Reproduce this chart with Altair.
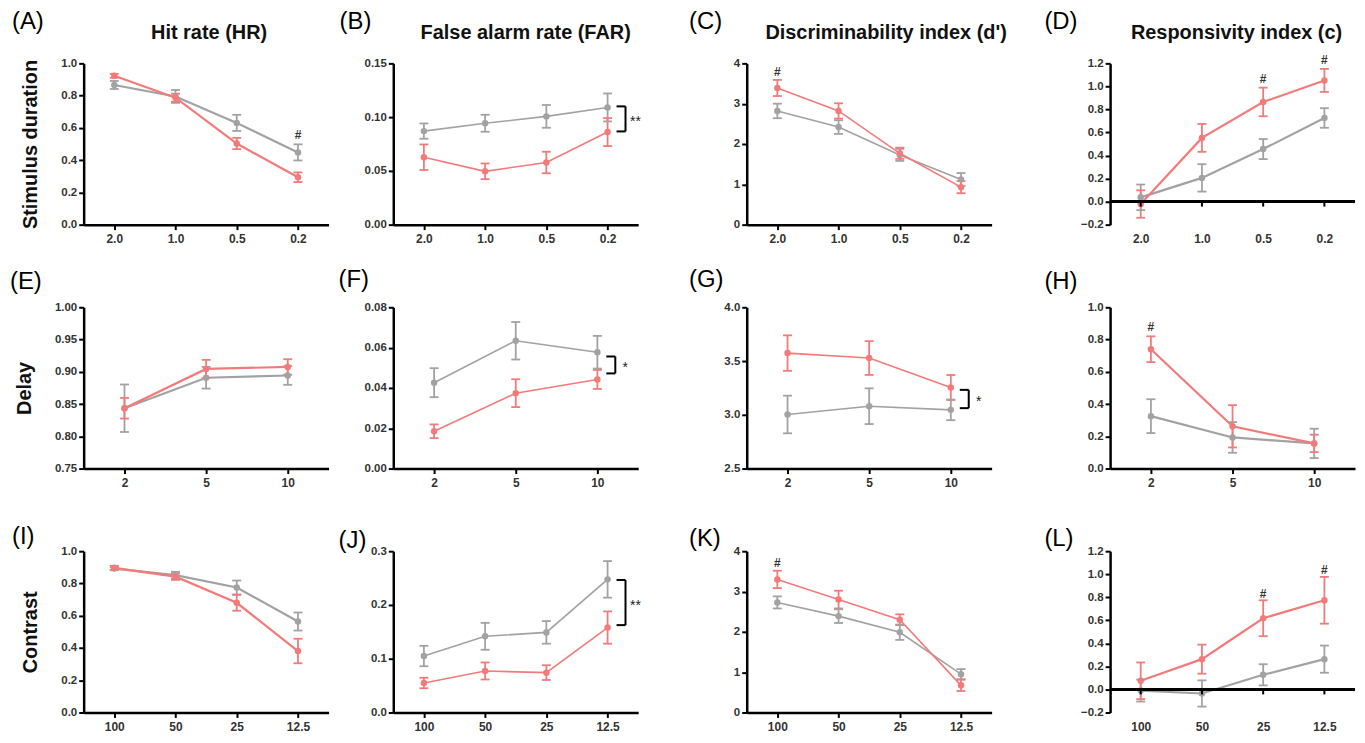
import altair as alt
import pandas as pd

RED = "#F47A7A"
GRAY = "#A2A2A2"
LIGHT = "#CFCFCF"
FONT = "Liberation Sans"

W = 246
H = 162
SPACERS = [45, 89, 99]

stim_levels = ["2.0", "1.0", "0.5", "0.2"]
delay_levels = ["2", "5", "10"]
contrast_levels = ["100", "50", "25", "12.5"]

col_titles = ["Hit rate (HR)", "False alarm rate (FAR)",
              "Discriminability index (d')", "Responsivity index (c)"]
row_titles = ["Stimulus duration", "Delay", "Contrast"]
letters = ["(A)", "(B)", "(C)", "(D)", "(E)", "(F)", "(G)", "(H)",
           "(I)", "(J)", "(K)", "(L)"]

# ---- Row 1: stimulus duration ----
A_red = [0.923, 0.787, 0.503, 0.294]
A_red_err = [0.012, 0.025, 0.035, 0.030]
A_gray = [0.866, 0.795, 0.631, 0.448]
A_gray_err = [0.025, 0.040, 0.050, 0.050]
A_hash = [("0.2", 0.555)]

B_red = [0.0627, 0.0496, 0.0578, 0.0861]
B_red_err = [0.0119, 0.0073, 0.0100, 0.0130]
B_gray = [0.0870, 0.0943, 0.1007, 0.1090]
B_gray_err = [0.0071, 0.0079, 0.0106, 0.0130]
B_bracket = (0.110, 0.0867, "**")

C_red = [3.39, 2.82, 1.77, 0.93]
C_red_err = [0.20, 0.19, 0.14, 0.15]
C_gray = [2.82, 2.42, 1.73, 1.12]
C_gray_err = [0.18, 0.17, 0.15, 0.16]
C_hash = [("2.0", 3.78)]

D_red = [-0.021, 0.553, 0.865, 1.052]
D_red_err = [0.119, 0.121, 0.124, 0.100]
D_gray = [0.037, 0.206, 0.456, 0.726]
D_gray_err = [0.111, 0.119, 0.087, 0.085]
D_hash = [("0.5", 1.06), ("0.2", 1.23)]

# ---- Row 2: delay ----
E_red = [0.8435, 0.9045, 0.9075]
E_red_err = [0.016, 0.014, 0.012]
E_gray = [0.8435, 0.8908, 0.8943]
E_gray_err = [0.0368, 0.0168, 0.0145]

F_red = [0.0185, 0.0374, 0.0442]
F_red_err = [0.0034, 0.0069, 0.0047]
F_gray = [0.0426, 0.0634, 0.0577]
F_gray_err = [0.0072, 0.0093, 0.0081]
F_bracket = (0.0556, 0.0472, "*")

G_red = [3.574, 3.528, 3.254]
G_red_err = [0.165, 0.157, 0.116]
G_gray = [3.003, 3.080, 3.046]
G_gray_err = [0.175, 0.166, 0.096]
G_bracket = (3.232, 3.062, "*")

H_red = [0.740, 0.262, 0.156]
H_red_err = [0.080, 0.131, 0.054]
H_gray = [0.325, 0.193, 0.156]
H_gray_err = [0.105, 0.095, 0.091]
H_hash = [("2", 0.878)]

# ---- Row 3: contrast ----
I_red = [0.897, 0.842, 0.680, 0.381]
I_red_err = [0.012, 0.020, 0.049, 0.076]
I_gray = [0.892, 0.852, 0.775, 0.564]
I_gray_err = [0.010, 0.020, 0.043, 0.056]

J_red = [0.0548, 0.0772, 0.0741, 0.158]
J_red_err = [0.0097, 0.0158, 0.0137, 0.030]
J_gray = [0.105, 0.1417, 0.149, 0.2476]
J_gray_err = [0.019, 0.025, 0.021, 0.034]
J_bracket = (0.2465, 0.1625, "**")

K_red = [3.30, 2.80, 2.30, 0.673]
K_red_err = [0.215, 0.22, 0.134, 0.14]
K_gray = [2.73, 2.39, 1.99, 0.95]
K_gray_err = [0.15, 0.17, 0.19, 0.126]
K_hash = [("100", 3.71)]

L_red = [0.075, 0.263, 0.618, 0.774]
L_red_err = [0.159, 0.126, 0.156, 0.203]
L_gray = [-0.010, -0.035, 0.127, 0.263]
L_gray_err = [0.095, 0.114, 0.092, 0.118]
L_hash = [("25", 0.83), ("12.5", 1.04)]


def panel(letter, letter_xy, levels, red, red_err, gray, gray_err,
          ydom, yticks, yfmt, title=None, title_dx=0, row_title=None, hashes=None,
          bracket=None, zero_line=False, lw=2.0, gray_color=GRAY):
    n = len(levels)
    df = pd.DataFrame({
        "cond": list(levels) * 2,
        "group": ["Series 2"] * n + ["Series 1"] * n,
        "mean": list(gray) + list(red),
        "err": list(gray_err) + list(red_err),
    })
    df["lo"] = df["mean"] - df["err"]
    df["hi"] = df["mean"] + df["err"]

    xs = alt.Scale(type="point", domain=list(levels), padding=0.5)
    ys = alt.Scale(domain=ydom, zero=False, nice=False)
    cs = alt.Scale(domain=["Series 1", "Series 2"], range=[RED, gray_color])

    if zero_line:
        xaxis = alt.Axis(title=None, labelAngle=0, domain=False, ticks=False,
                         labelPadding=9)
    else:
        xaxis = alt.Axis(title=None, labelAngle=0, tickSize=5, labelPadding=4)
    yargs = dict(values=yticks, format=yfmt, tickSize=5, labelPadding=2)
    if row_title:
        yaxis = alt.Axis(title=row_title, titlePadding=20, **yargs)
    else:
        yaxis = alt.Axis(title=None, **yargs)

    X = alt.X("cond:N", scale=xs, axis=xaxis)
    col = alt.Color("group:N", scale=cs, legend=None)

    def Y(field):
        return alt.Y(field, type="quantitative", scale=ys, axis=yaxis)

    base = alt.Chart(df)
    layers = []
    layers.append(base.mark_line(strokeWidth=lw).encode(x=X, y=Y("mean"), color=col))
    layers.append(base.mark_rule(strokeWidth=1.8).encode(x=X, y=Y("lo"), y2="hi", color=col))
    layers.append(base.mark_tick(orient="horizontal", size=9, thickness=1.8, opacity=1)
                  .encode(x=X, y=Y("lo"), color=col))
    layers.append(base.mark_tick(orient="horizontal", size=9, thickness=1.8, opacity=1)
                  .encode(x=X, y=Y("hi"), color=col))
    layers.append(base.mark_circle(size=42, opacity=1).encode(x=X, y=Y("mean"), color=col))

    if zero_line:
        zdf = pd.DataFrame({"cond": list(levels)})
        layers.append(alt.Chart(zdf).mark_rule(strokeWidth=2.5, color="black")
                      .encode(x=alt.value(0), x2=alt.value(W), y=alt.Y(datum=0, scale=ys, axis=yaxis)))
        layers.append(alt.Chart(zdf).mark_rule(strokeWidth=2, color="black", y2Offset=5)
                      .encode(x=X, y=alt.Y(datum=0, scale=ys, axis=yaxis), y2=alt.datum(0)))

    if hashes:
        hdf = pd.DataFrame({"cond": [h[0] for h in hashes], "y": [h[1] for h in hashes],
                            "t": ["#"] * len(hashes)})
        layers.append(alt.Chart(hdf).mark_text(fontSize=12, fontWeight="bold", color="#333333",
                                               font=FONT, baseline="middle")
                      .encode(x=X, y=Y("y"), text="t:N"))

    if bracket:
        top, bot, star = bracket
        bdf = pd.DataFrame({"cond": [levels[-1]], "top": [top], "bot": [bot],
                            "mid": [(top + bot) / 2], "t": [star]})
        bc = alt.Chart(bdf)
        layers.append(bc.mark_rule(strokeWidth=2, color="black", xOffset=18)
                      .encode(x=X, y=Y("top"), y2="bot"))
        layers.append(bc.mark_rule(strokeWidth=2, color="black", xOffset=9, x2Offset=18)
                      .encode(x=X, x2="cond", y=Y("top")))
        layers.append(bc.mark_rule(strokeWidth=2, color="black", xOffset=9, x2Offset=18)
                      .encode(x=X, x2="cond", y=Y("bot")))
        layers.append(bc.mark_text(fontSize=14, color="#222222", font=FONT, align="center",
                                   baseline="middle", xOffset=28, dy=3)
                      .encode(x=X, y=Y("mid"), text="t:N"))

    ldf = pd.DataFrame({"t": [letter]})
    layers.append(alt.Chart(ldf).mark_text(fontSize=24, font=FONT, color="black", align="left",
                                           baseline="middle")
                  .encode(x=alt.value(letter_xy[0]), y=alt.value(letter_xy[1]), text="t:N"))

    if title:
        tdf = pd.DataFrame({"t": [title]})
        layers.append(alt.Chart(tdf).mark_text(fontSize=20, fontWeight="bold", font=FONT,
                                               color="#111111", align="center", baseline="middle")
                      .encode(x=alt.value(W / 2 + title_dx), y=alt.value(-30), text="t:N"))

    return alt.layer(*layers).properties(width=W, height=H)


def spacer(w):
    d = pd.DataFrame({"v": [0]})
    return alt.Chart(d).mark_point(opacity=0).encode(
        x=alt.X("v:Q", axis=None), y=alt.Y("v:Q", axis=None)
    ).properties(width=w, height=H)


tk_unit = [0, 0.2, 0.4, 0.6, 0.8, 1.0]
tk_c = [-0.2, 0, 0.2, 0.4, 0.6, 0.8, 1.0, 1.2]

pA = panel(letters[0], (-72, -42), stim_levels, A_red, A_red_err, A_gray, A_gray_err,
           [0, 1], tk_unit, ".1f", title=col_titles[0], title_dx=3,
           row_title=row_titles[0], hashes=A_hash, lw=2.2)
pB = panel(letters[1], (-54, -42), stim_levels, B_red, B_red_err, B_gray, B_gray_err,
           [0, 0.15], [0, 0.05, 0.10, 0.15], ".2f", title=col_titles[1], title_dx=10,
           bracket=B_bracket, lw=1.6)
pC = panel(letters[2], (-58, -42), stim_levels, C_red, C_red_err, C_gray, C_gray_err,
           [0, 4], [0, 1, 2, 3, 4], "d", title=col_titles[2], title_dx=17, hashes=C_hash, lw=1.6)
pD = panel(letters[3], (-66, -42), stim_levels, D_red, D_red_err, D_gray, D_gray_err,
           [-0.2, 1.2], tk_c, ".1f", title=col_titles[3], title_dx=4, hashes=D_hash,
           zero_line=True, lw=2.2)

pE = panel(letters[4], (-74, -25), delay_levels, E_red, E_red_err, E_gray, E_gray_err,
           [0.75, 1.0], [0.75, 0.80, 0.85, 0.90, 0.95, 1.00], ".2f", row_title=row_titles[1],
           lw=2.2)
pF = panel(letters[5], (-55, -27), delay_levels, F_red, F_red_err, F_gray, F_gray_err,
           [0, 0.08], [0, 0.02, 0.04, 0.06, 0.08], ".2f", bracket=F_bracket, lw=1.6)
pG = panel(letters[6], (-58, -27), delay_levels, G_red, G_red_err, G_gray, G_gray_err,
           [2.5, 4.0], [2.5, 3.0, 3.5, 4.0], ".1f", bracket=G_bracket, lw=1.6)
pH = panel(letters[7], (-66, -25), delay_levels, H_red, H_red_err, H_gray, H_gray_err,
           [0, 1], tk_unit, ".1f", hashes=H_hash, lw=2.2)

pI = panel(letters[8], (-72, -14), contrast_levels, I_red, I_red_err, I_gray, I_gray_err,
           [0, 1], tk_unit, ".1f", row_title=row_titles[2], lw=2.2)
pJ = panel(letters[9], (-55, -10), contrast_levels, J_red, J_red_err, J_gray, J_gray_err,
           [0, 0.3], [0, 0.1, 0.2, 0.3], ".1f", bracket=J_bracket, lw=1.6)
pK = panel(letters[10], (-58, -12), contrast_levels, K_red, K_red_err, K_gray, K_gray_err,
           [0, 4], [0, 1, 2, 3, 4], "d", hashes=K_hash, lw=1.6, gray_color=LIGHT)
pL = panel(letters[11], (-66, -12), contrast_levels, L_red, L_red_err, L_gray, L_gray_err,
           [-0.2, 1.2], tk_c, ".1f", hashes=L_hash, zero_line=True, lw=2.2)

rows = [[pA, pB, pC, pD], [pE, pF, pG, pH], [pI, pJ, pK, pL]]
cells = []
for row in rows:
    for c, p in enumerate(row):
        cells.append(p)
        if c < 3:
            cells.append(spacer(SPACERS[c]))

chart = alt.concat(*cells, columns=7, spacing={"row": 83, "column": 10}, bounds="flush").properties(
    padding={"left": 2, "top": 0, "right": 0, "bottom": 0}
).configure_view(stroke=None).configure_axis(
    domainColor="black", domainWidth=2.5, tickColor="black", tickWidth=2,
    labelFont=FONT, labelFontWeight="bold", labelFontSize=11.5, labelColor="#333333",
    grid=False, titleFont=FONT, titleFontSize=20, titleFontWeight="bold", titleColor="#111111"
).configure_axisX(labelFontSize=12)

chart.save("out.html", embed_options={"renderer": "svg", "actions": False})
